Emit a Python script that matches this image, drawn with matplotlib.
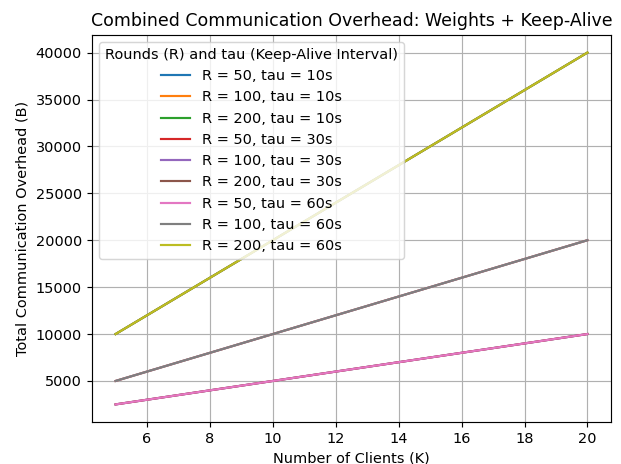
import matplotlib
matplotlib.use("Agg")
import matplotlib.pyplot as plt

clients = [5, 10, 15, 20]
rounds = [50, 100, 200]
taus = [10, 30, 60]

# Overhead values (bytes) per (tau, R)
overhead = {
    (10, 50): [2500, 5000, 7500, 10000],
    (10, 100): [5000, 10000, 15000, 20000],
    (10, 200): [10000, 20000, 30000, 40000],
    (30, 50): [2500, 5000, 7500, 10000],
    (30, 100): [5000, 10000, 15000, 20000],
    (30, 200): [10000, 20000, 30000, 40000],
    (60, 50): [2500, 5000, 7500, 10000],
    (60, 100): [5000, 10000, 15000, 20000],
    (60, 200): [10000, 20000, 30000, 40000],
}

dpi = 104
fig, ax = plt.subplots(figsize=(621 / dpi, 464 / dpi), dpi=dpi)
for tau in taus:
    for R in rounds:
        ax.plot(clients, overhead[(tau, R)], label=f"R = {R}, tau = {tau}s")

ax.set_title("Combined Communication Overhead: Weights + Keep-Alive")
ax.set_xlabel("Number of Clients (K)")
ax.set_ylabel("Total Communication Overhead (B)")
ax.legend(title="Rounds (R) and tau (Keep-Alive Interval)", loc="upper left")
ax.grid(True)
fig.subplots_adjust(left=92 / 621, right=611 / 621, top=1 - 35 / 464, bottom=1 - 422 / 464)
fig.savefig("out.png")
